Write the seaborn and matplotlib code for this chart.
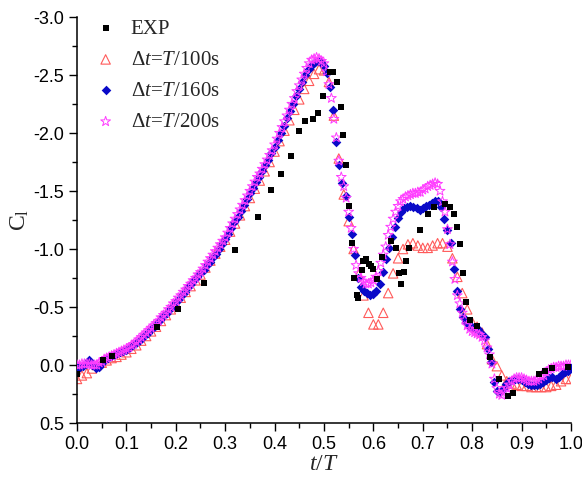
import matplotlib
matplotlib.use("Agg")
import matplotlib.pyplot as plt
import numpy as np
import pandas as pd
import seaborn as sns

exp_t = [0.000, 0.053, 0.070, 0.161, 0.205, 0.258, 0.320, 0.366, 0.392, 0.413,
         0.433, 0.449, 0.461, 0.478, 0.487, 0.499, 0.513, 0.519, 0.527, 0.534,
         0.539, 0.545, 0.551, 0.556, 0.561, 0.566, 0.568, 0.576, 0.580, 0.586,
         0.592, 0.596, 0.600, 0.607, 0.617, 0.636, 0.645, 0.651, 0.655, 0.662,
         0.667, 0.673, 0.694, 0.711, 0.723, 0.746, 0.755, 0.763, 0.770, 0.775,
         0.781, 0.787, 0.796, 0.809, 0.836, 0.855, 0.873, 0.882, 0.935, 0.947,
         0.961, 0.995]
exp_c = [0.08, -0.04, -0.08, -0.33, -0.48, -0.71, -0.99, -1.28, -1.51, -1.65,
         -1.80, -2.02, -2.10, -2.12, -2.17, -2.32, -2.53, -2.53, -2.44, -2.22,
         -1.98, -1.72, -1.37, -1.05, -0.75, -0.60, -0.58, -0.82, -0.90, -0.91,
         -0.87, -0.85, -0.83, -0.74, -0.93, -1.07, -1.01, -0.79, -0.70, -0.80,
         -0.90, -1.01, -1.16, -1.30, -1.36, -1.39, -1.36, -1.30, -1.19, -1.04,
         -0.79, -0.54, -0.39, -0.34, -0.07, 0.12, 0.27, 0.24, 0.08, 0.05,
         0.03, 0.02]

# simulations, one value per time step (dt = T/100, T/160, T/200)
c_100 = [0.12, 0.09, 0.07, 0.03, 0.00, -0.02, -0.04, -0.06, -0.07, -0.09,
         -0.11, -0.14, -0.17, -0.21, -0.25, -0.29, -0.33, -0.38, -0.43, -0.48,
         -0.53, -0.58, -0.63, -0.68, -0.73, -0.78, -0.84, -0.90, -0.96, -1.02,
         -1.08, -1.15, -1.22, -1.29, -1.37, -1.44, -1.52, -1.59, -1.67, -1.75,
         -1.84, -1.93, -2.02, -2.11, -2.20, -2.29, -2.38, -2.45, -2.51, -2.55,
         -2.54, -2.44, -2.15, -1.78, -1.47, -1.24, -1.00, -0.78, -0.60, -0.45,
         -0.35, -0.35, -0.45, -0.62, -0.79, -0.92, -1.00, -1.04, -1.05, -1.03,
         -1.01, -1.01, -1.03, -1.05, -1.05, -1.02, -0.92, -0.76, -0.62, -0.48,
         -0.37, -0.33, -0.28, -0.18, -0.05, 0.01, 0.09, 0.14, 0.16, 0.17,
         0.18, 0.18, 0.19, 0.19, 0.19, 0.19, 0.18, 0.17, 0.14, 0.12,
         0.12]

c_160 = [0.02, 0.02, 0.01, -0.01, -0.04, 0.00, 0.03, 0.02, -0.02, -0.05,
         -0.06, -0.08, -0.09, -0.10, -0.11, -0.12, -0.13, -0.15, -0.17, -0.19,
         -0.21, -0.23, -0.26, -0.28, -0.31, -0.33, -0.36, -0.39, -0.42, -0.45,
         -0.48, -0.51, -0.54, -0.57, -0.60, -0.63, -0.67, -0.70, -0.73, -0.76,
         -0.79, -0.82, -0.86, -0.89, -0.93, -0.96, -1.00, -1.04, -1.09, -1.13,
         -1.18, -1.23, -1.28, -1.33, -1.38, -1.43, -1.48, -1.53, -1.58, -1.62,
         -1.67, -1.72, -1.77, -1.83, -1.88, -1.94, -2.00, -2.06, -2.13, -2.19,
         -2.25, -2.32, -2.38, -2.44, -2.50, -2.55, -2.59, -2.61, -2.62, -2.61,
         -2.58, -2.52, -2.40, -2.20, -1.92, -1.72, -1.57, -1.46, -1.28, -1.13,
         -0.95, -0.75, -0.67, -0.64, -0.62, -0.60, -0.61, -0.64, -0.70, -0.80,
         -0.91, -1.01, -1.10, -1.19, -1.27, -1.32, -1.35, -1.36, -1.37, -1.36,
         -1.35, -1.34, -1.35, -1.37, -1.38, -1.40, -1.41, -1.41, -1.36, -1.26,
         -1.16, -1.05, -0.83, -0.64, -0.48, -0.41, -0.37, -0.34, -0.33, -0.32,
         -0.31, -0.28, -0.24, -0.14, -0.03, 0.15, 0.22, 0.23, 0.21, 0.16,
         0.14, 0.13, 0.12, 0.12, 0.13, 0.15, 0.16, 0.17, 0.17, 0.17,
         0.16, 0.15, 0.13, 0.11, 0.10, 0.12, 0.10, 0.08, 0.06, 0.05,
         0.03]

c_200 = [0.00, 0.00, -0.01, -0.01, -0.01, -0.01, 0.00, 0.00, 0.00, -0.02,
         -0.03, -0.05, -0.06, -0.07, -0.08, -0.09, -0.10, -0.11, -0.12, -0.13,
         -0.14, -0.15, -0.17, -0.18, -0.20, -0.22, -0.24, -0.26, -0.28, -0.30,
         -0.32, -0.34, -0.36, -0.38, -0.41, -0.43, -0.45, -0.48, -0.50, -0.53,
         -0.55, -0.58, -0.60, -0.63, -0.65, -0.68, -0.70, -0.73, -0.75, -0.78,
         -0.80, -0.83, -0.86, -0.89, -0.92, -0.95, -0.98, -1.01, -1.04, -1.07,
         -1.10, -1.14, -1.18, -1.22, -1.26, -1.30, -1.34, -1.38, -1.42, -1.46,
         -1.50, -1.54, -1.58, -1.62, -1.65, -1.69, -1.73, -1.77, -1.81, -1.85,
         -1.90, -1.95, -2.00, -2.05, -2.10, -2.15, -2.20, -2.25, -2.30, -2.36,
         -2.41, -2.46, -2.51, -2.56, -2.60, -2.63, -2.64, -2.65, -2.64, -2.62,
         -2.60, -2.53, -2.42, -2.30, -2.12, -1.96, -1.76, -1.62, -1.54, -1.44,
         -1.32, -1.18, -1.00, -0.86, -0.79, -0.75, -0.72, -0.70, -0.70, -0.71,
         -0.73, -0.76, -0.81, -0.88, -0.95, -1.02, -1.12, -1.19, -1.26, -1.32,
         -1.37, -1.41, -1.43, -1.45, -1.46, -1.47, -1.48, -1.48, -1.49, -1.49,
         -1.51, -1.52, -1.54, -1.55, -1.56, -1.57, -1.56, -1.50, -1.41, -1.32,
         -1.17, -1.04, -0.89, -0.74, -0.60, -0.53, -0.45, -0.39, -0.34, -0.31,
         -0.29, -0.28, -0.27, -0.26, -0.24, -0.21, -0.15, -0.09, -0.01, 0.12,
         0.20, 0.25, 0.26, 0.23, 0.20, 0.17, 0.14, 0.12, 0.11, 0.11,
         0.11, 0.12, 0.13, 0.14, 0.14, 0.14, 0.13, 0.12, 0.10, 0.09,
         0.06, 0.04, 0.03, 0.02, 0.02, 0.01, 0.01, 0.01, 0.00, 0.00,
         0.00]

steps = [100, 160, 200]
labels = ["EXP", r"$\mathit{Δt}$=$\mathit{T}$/100s",
          r"$\mathit{Δt}$=$\mathit{T}$/160s", r"$\mathit{Δt}$=$\mathit{T}$/200s"]

sns.set_theme(style="ticks")
plt.rcParams["font.family"] = ["Liberation Sans", "DejaVu Sans"]
plt.rcParams["mathtext.fontset"] = "custom"
plt.rcParams["mathtext.rm"] = "Liberation Serif"
plt.rcParams["mathtext.it"] = "Liberation Serif:italic"

fig = plt.figure(figsize=(5.82, 4.82), dpi=100)
ax = fig.add_axes([0.1323, 0.1224, 0.8487, 0.8423])

sns.scatterplot(x=exp_t, y=exp_c, marker="s", s=22, color="black", edgecolor="black",
                linewidth=0, label=labels[0], ax=ax, zorder=5)
sns.scatterplot(x=np.arange(len(c_100)) / steps[0], y=c_100, marker="^", s=46,
                facecolor="none", edgecolor="#ff5a5a", linewidth=0.8, label=labels[1], ax=ax, zorder=2)
sns.scatterplot(x=np.arange(len(c_160)) / steps[1], y=c_160, marker="D", s=24,
                color="#0a0ac8", edgecolor="#0a0ac8", linewidth=0, label=labels[2], ax=ax, zorder=3)
sns.scatterplot(x=np.arange(len(c_200)) / steps[2], y=c_200, marker="*", s=55,
                facecolor="none", edgecolor="#ff3cff", linewidth=0.7, label=labels[3], ax=ax, zorder=4)

ax.set_xlim(0, 1.0)
ax.set_ylim(0.5, -3.0)
ax.set_xticks(np.arange(0, 1.01, 0.1))
ax.set_yticks([0.5, 0.0, -0.5, -1.0, -1.5, -2.0, -2.5, -3.0])
ax.set_xticks(np.arange(0.05, 1.0, 0.1), minor=True)
ax.set_yticks(np.arange(-2.75, 0.5, 0.5), minor=True)
ax.xaxis.set_major_formatter(matplotlib.ticker.FormatStrFormatter("%.1f"))
ax.yaxis.set_major_formatter(matplotlib.ticker.FormatStrFormatter("%.1f"))
ax.tick_params(which="major", direction="out", length=6, width=1, labelsize=13, colors="black", pad=3)
ax.tick_params(which="minor", direction="out", length=3.5, width=1, colors="black")
sns.despine(ax=ax)
for side in ["left", "bottom"]:
    ax.spines[side].set_linewidth(1.1)
    ax.spines[side].set_color("black")

ax.set_xlabel(r"$t/T$", fontsize=17, labelpad=0)
ax.set_ylabel(r"$\mathrm{C}_{\mathrm{l}}$", fontsize=17, labelpad=2)

leg = ax.legend(loc="upper left", bbox_to_anchor=(0.02, 1.015), frameon=False,
                handlelength=1.0, handletextpad=0.7, labelspacing=0.55, borderaxespad=0,
                prop={"family": "Liberation Serif", "size": 15})

fig.savefig("out.png", dpi=100)
